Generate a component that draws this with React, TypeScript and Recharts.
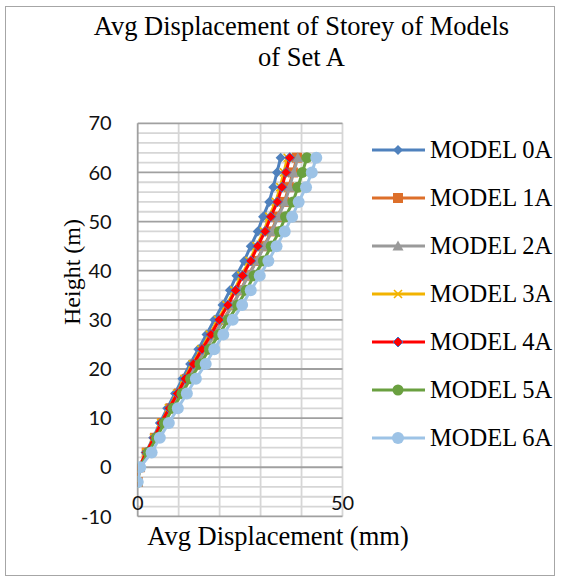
import React from 'react';
import { ScatterChart, Scatter, XAxis, YAxis, ReferenceLine } from 'recharts';

// Storey heights (m)
const heights = [-3, 0, 3, 6, 9, 12, 15, 18, 21, 24, 27, 30, 33, 36, 39, 42, 45, 48, 51, 54, 57, 60, 63];

// Average storey displacement (mm) for each model
const model0A = [0, 0.4, 2.0, 3.8, 5.4, 7.2, 9.1, 10.9, 12.8, 14.8, 16.8, 18.7, 20.7, 22.5, 24.1, 26.0, 27.6, 29.3, 30.6, 32.1, 33.1, 34.0, 34.9];
const model1A = [0, 0.5, 2.2, 4.2, 6.0, 8.0, 10.1, 12.2, 14.3, 16.5, 18.7, 20.9, 23.1, 25.1, 26.9, 29.0, 30.8, 32.7, 34.1, 35.8, 36.9, 37.9, 38.9];
const model2A = [0, 0.5, 2.3, 4.3, 6.1, 8.1, 10.2, 12.3, 14.4, 16.6, 18.8, 21.0, 23.2, 25.2, 27.0, 29.1, 30.9, 32.8, 34.3, 36.0, 37.1, 38.1, 39.1];
const model3A = [0, 0.4, 2.1, 4.0, 5.7, 7.6, 9.6, 11.4, 13.4, 15.5, 17.6, 19.6, 21.7, 23.6, 25.3, 27.3, 29.0, 30.8, 32.1, 33.7, 34.8, 35.7, 36.6];
const model4A = [0, 0.4, 2.1, 4.0, 5.7, 7.7, 9.7, 11.6, 13.6, 15.7, 17.9, 19.9, 22.0, 23.9, 25.6, 27.6, 29.3, 31.1, 32.5, 34.1, 35.2, 36.2, 37.1];
const model5A = [0, 0.5, 2.6, 4.6, 6.5, 8.6, 10.8, 12.9, 15.2, 17.5, 19.8, 22.1, 24.4, 26.5, 28.4, 30.7, 32.6, 34.6, 36.1, 37.9, 39.1, 40.2, 41.3];
const model6A = [0, 0.6, 3.4, 5.4, 7.6, 9.8, 12.0, 14.2, 16.6, 18.7, 20.9, 23.2, 25.5, 27.6, 29.8, 31.9, 33.9, 35.9, 37.7, 39.3, 41.1, 42.5, 43.6];

// Axis ticks and gridline values
const xTicks = [0, 50];
const yTicks = [-10, 0, 10, 20, 30, 40, 50, 60, 70];
const yMinor = [-8, -6, -4, -2, 2, 4, 6, 8, 12, 14, 16, 18, 22, 24, 26, 28, 32, 34, 36, 38, 42, 44, 46, 48, 52, 54, 56, 58, 62, 64, 66, 68];
const xGrid = [10, 20, 30, 40, 50];

type MarkerKind = 'diamond' | 'square' | 'triangle' | 'cross' | 'redDiamond' | 'circle' | 'bigCircle';

const series: { name: string; values: number[]; color: string; marker: MarkerKind }[] = [
  { name: 'MODEL 0A', values: model0A, color: '#4F81BD', marker: 'diamond' },
  { name: 'MODEL 1A', values: model1A, color: '#DD6F2A', marker: 'square' },
  { name: 'MODEL 2A', values: model2A, color: '#9A9A9A', marker: 'triangle' },
  { name: 'MODEL 3A', values: model3A, color: '#F2B300', marker: 'cross' },
  { name: 'MODEL 4A', values: model4A, color: '#FF0000', marker: 'redDiamond' },
  { name: 'MODEL 5A', values: model5A, color: '#6AA040', marker: 'circle' },
  { name: 'MODEL 6A', values: model6A, color: '#9DC3E6', marker: 'bigCircle' },
];

const Marker = ({ kind, color, cx, cy }: { kind: MarkerKind; color: string; cx: number; cy: number }) => {
  if (cx == null || cy == null) return null;
  switch (kind) {
    case 'diamond': {
      const s = 5;
      return <polygon points={`${cx},${cy - s} ${cx + s},${cy} ${cx},${cy + s} ${cx - s},${cy}`} fill={color} />;
    }
    case 'redDiamond': {
      const s = 5;
      return (
        <polygon
          points={`${cx},${cy - s} ${cx + s},${cy} ${cx},${cy + s} ${cx - s},${cy}`}
          fill={color}
          stroke="#4472C4"
          strokeWidth={1}
        />
      );
    }
    case 'square':
      return <rect x={cx - 5} y={cy - 5} width={10} height={10} fill={color} />;
    case 'triangle':
      return <polygon points={`${cx},${cy - 5.5} ${cx + 5.5},${cy + 4.5} ${cx - 5.5},${cy + 4.5}`} fill={color} />;
    case 'cross':
      return (
        <g stroke={color} strokeWidth={1.6}>
          <line x1={cx - 4} y1={cy - 4} x2={cx + 4} y2={cy + 4} />
          <line x1={cx - 4} y1={cy + 4} x2={cx + 4} y2={cy - 4} />
        </g>
      );
    case 'circle':
      return <circle cx={cx} cy={cy} r={5.5} fill={color} />;
    case 'bigCircle':
      return <circle cx={cx} cy={cy} r={6} fill={color} />;
  }
  return null;
};

const XTick = (p: any) => (
  <text x={p.x} y={p.y - 6} textAnchor="middle" fontFamily="Lato" fontSize={20} fill="#111">
    {p.payload.value}
  </text>
);

const serif = '"Liberation Serif", "Times New Roman", serif';

export default function App() {
  return (
    <div style={{ position: 'absolute', left: 0, top: 0, width: 561, height: 581, background: '#fff' }}>
      <div
        style={{
          position: 'absolute',
          left: 5,
          top: 6,
          width: 550,
          height: 570,
          border: '1px solid #A6A6A6',
          boxSizing: 'border-box',
        }}
      />
      <div
        style={{
          position: 'absolute',
          left: 0,
          width: 603,
          top: 11,
          textAlign: 'center',
          fontFamily: serif,
          fontSize: 26.5,
          lineHeight: '31px',
          color: '#000',
        }}
      >
        Avg Displacement of Storey of Models
        <br />
        of Set A
      </div>

      <div style={{ position: 'absolute', left: 0, top: 0 }}>
        <ScatterChart width={561} height={581} margin={{ top: 123.3, right: 218.5, bottom: 34.6, left: 0 }}>
          <XAxis
            type="number"
            dataKey="x"
            domain={[0, 50]}
            ticks={xTicks}
            allowDataOverflow
            height={30}
            tickSize={0}
            tickMargin={0}
            axisLine={false}
            tickLine={false}
            tick={<XTick />}
          />
          <YAxis
            type="number"
            dataKey="h"
            domain={[-10, 70]}
            ticks={yTicks}
            allowDataOverflow
            width={137.7}
            tickSize={0}
            tickMargin={26}
            axisLine={false}
            tickLine={false}
            tick={{ fontFamily: 'Lato', fontSize: 20, fill: '#111' }}
          />
          {yMinor.map((v) => (
            <ReferenceLine key={`m${v}`} y={v} stroke="#D6D6D6" strokeWidth={1.8} />
          ))}
          {xGrid.map((v) => (
            <ReferenceLine key={`v${v}`} x={v} stroke="#D6D6D6" strokeWidth={1.8} />
          ))}
          {yTicks.map((v) => (
            <ReferenceLine key={`M${v}`} y={v} stroke="#A0A0A0" strokeWidth={1.8} />
          ))}
          <ReferenceLine x={0} stroke="#A0A0A0" strokeWidth={1.8} />
          {series.map((s) => (
            <Scatter
              key={s.name}
              name={s.name}
              data={s.values.map((v, i) => ({ x: v, h: heights[i] }))}
              fill={s.color}
              line={{ stroke: s.color, strokeWidth: 3 }}
              lineType="joint"
              isAnimationActive={false}
              shape={(p: any) => <Marker kind={s.marker} color={s.color} cx={p.cx} cy={p.cy} />}
            />
          ))}
        </ScatterChart>
      </div>

      <div
        style={{
          position: 'absolute',
          left: 0,
          width: 556,
          top: 521,
          textAlign: 'center',
          fontFamily: serif,
          fontSize: 26.5,
          lineHeight: '30px',
          color: '#000',
        }}
      >
        Avg Displacement (mm)
      </div>
      <div
        style={{
          position: 'absolute',
          left: 72,
          top: 272,
          transform: 'translate(-50%, -50%) rotate(-90deg)',
          whiteSpace: 'nowrap',
          fontFamily: serif,
          fontSize: 24,
          lineHeight: '28px',
          color: '#000',
        }}
      >
        Height (m)
      </div>

      <div style={{ position: 'absolute', left: 372, top: 138 }}>
        {series.map((s, i) => (
          <div key={s.name} style={{ position: 'absolute', left: 0, top: i * 48, height: 24, width: 190 }}>
            <svg width={56} height={24} style={{ position: 'absolute', left: 0, top: 0 }}>
              <line x1={0} y1={12} x2={53} y2={12} stroke={s.color} strokeWidth={3} />
              <Marker kind={s.marker} color={s.color} cx={26} cy={12} />
            </svg>
            <span
              style={{
                position: 'absolute',
                left: 58,
                top: 0,
                fontFamily: serif,
                fontSize: 24.5,
                lineHeight: '24px',
                whiteSpace: 'nowrap',
                color: '#000',
              }}
            >
              {s.name}
            </span>
          </div>
        ))}
      </div>
    </div>
  );
}
